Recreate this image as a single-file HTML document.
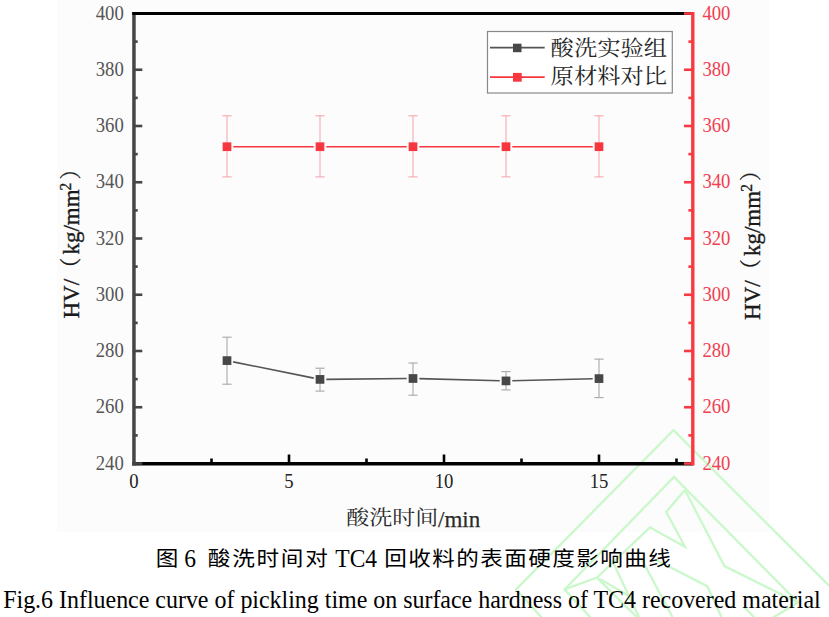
<!DOCTYPE html><html><head><meta charset="utf-8"><style>html,body{margin:0;padding:0;background:#fff;}svg{display:block}</style></head><body>
<svg width="829" height="617" viewBox="0 0 829 617">
<rect width="829" height="617" fill="#fff"/>
<rect x="57" y="0" width="712" height="532" fill="#fcfcfc"/>
<g fill="none" stroke="#cbf8cb" stroke-width="2.3" stroke-linejoin="miter">
<polyline points="543,619 516.1,589.4 673.5,430.2 831,587.7"/>
<polyline points="592,619 564.5,589.4 674,477 798,602.5 769,620"/>
<polyline points="684.9,490 666.2,511.9 684.9,546.8 650,527.3 597,577.6 564.5,589.4"/>
<polyline points="597,577.6 625,605.6 637,617"/>
<polyline points="684.9,490 724.4,566.1 798,602.5"/>
<polyline points="656,560 707.2,586.2 721.5,617"/>
<polyline points="612,560 629,596 640,619"/>
<polyline points="641,558 673.5,619"/>
<polyline points="600,579 629,596"/>
<polyline points="744,607 755,618"/>
</g>
<line x1="132.3" y1="463.8" x2="693" y2="463.8" stroke="#000" stroke-width="3.4"/>
<line x1="289.0" y1="463" x2="289.0" y2="454.5" stroke="#000" stroke-width="2.6"/>
<line x1="444.0" y1="463" x2="444.0" y2="454.5" stroke="#000" stroke-width="2.6"/>
<line x1="599.0" y1="463" x2="599.0" y2="454.5" stroke="#000" stroke-width="2.6"/>
<line x1="211.5" y1="463" x2="211.5" y2="458.5" stroke="#000" stroke-width="2.6"/>
<line x1="366.5" y1="463" x2="366.5" y2="458.5" stroke="#000" stroke-width="2.6"/>
<line x1="521.5" y1="463" x2="521.5" y2="458.5" stroke="#000" stroke-width="2.6"/>
<line x1="676.5" y1="463" x2="676.5" y2="458.5" stroke="#000" stroke-width="2.6"/>
<line x1="133.95" y1="12.1" x2="133.95" y2="465.5" stroke="#454545" stroke-width="3.5"/>
<line x1="133.8" y1="463.50" x2="142.3" y2="463.50" stroke="#454545" stroke-width="2.6"/>
<line x1="133.8" y1="407.25" x2="142.3" y2="407.25" stroke="#454545" stroke-width="2.6"/>
<line x1="133.8" y1="351.00" x2="142.3" y2="351.00" stroke="#454545" stroke-width="2.6"/>
<line x1="133.8" y1="294.75" x2="142.3" y2="294.75" stroke="#454545" stroke-width="2.6"/>
<line x1="133.8" y1="238.50" x2="142.3" y2="238.50" stroke="#454545" stroke-width="2.6"/>
<line x1="133.8" y1="182.25" x2="142.3" y2="182.25" stroke="#454545" stroke-width="2.6"/>
<line x1="133.8" y1="126.00" x2="142.3" y2="126.00" stroke="#454545" stroke-width="2.6"/>
<line x1="133.8" y1="69.75" x2="142.3" y2="69.75" stroke="#454545" stroke-width="2.6"/>
<line x1="133.8" y1="13.50" x2="142.3" y2="13.50" stroke="#454545" stroke-width="2.6"/>
<line x1="133.8" y1="435.38" x2="137.7" y2="435.38" stroke="#454545" stroke-width="2.6"/>
<line x1="133.8" y1="379.12" x2="137.7" y2="379.12" stroke="#454545" stroke-width="2.6"/>
<line x1="133.8" y1="322.88" x2="137.7" y2="322.88" stroke="#454545" stroke-width="2.6"/>
<line x1="133.8" y1="266.62" x2="137.7" y2="266.62" stroke="#454545" stroke-width="2.6"/>
<line x1="133.8" y1="210.38" x2="137.7" y2="210.38" stroke="#454545" stroke-width="2.6"/>
<line x1="133.8" y1="154.12" x2="137.7" y2="154.12" stroke="#454545" stroke-width="2.6"/>
<line x1="133.8" y1="97.88" x2="137.7" y2="97.88" stroke="#454545" stroke-width="2.6"/>
<line x1="133.8" y1="41.62" x2="137.7" y2="41.62" stroke="#454545" stroke-width="2.6"/>
<line x1="132.2" y1="13.5" x2="693" y2="13.5" stroke="#000" stroke-width="2.8"/>
<line x1="692.8" y1="12.1" x2="692.8" y2="465.5" stroke="#f93a42" stroke-width="3.4"/>
<line x1="692.6" y1="463.50" x2="684" y2="463.50" stroke="#f93a42" stroke-width="2.6"/>
<line x1="692.6" y1="407.25" x2="684" y2="407.25" stroke="#f93a42" stroke-width="2.6"/>
<line x1="692.6" y1="351.00" x2="684" y2="351.00" stroke="#f93a42" stroke-width="2.6"/>
<line x1="692.6" y1="294.75" x2="684" y2="294.75" stroke="#f93a42" stroke-width="2.6"/>
<line x1="692.6" y1="238.50" x2="684" y2="238.50" stroke="#f93a42" stroke-width="2.6"/>
<line x1="692.6" y1="182.25" x2="684" y2="182.25" stroke="#f93a42" stroke-width="2.6"/>
<line x1="692.6" y1="126.00" x2="684" y2="126.00" stroke="#f93a42" stroke-width="2.6"/>
<line x1="692.6" y1="69.75" x2="684" y2="69.75" stroke="#f93a42" stroke-width="2.6"/>
<line x1="692.6" y1="13.50" x2="684" y2="13.50" stroke="#f93a42" stroke-width="2.6"/>
<line x1="692.6" y1="435.38" x2="688.4" y2="435.38" stroke="#f93a42" stroke-width="2.6"/>
<line x1="692.6" y1="379.12" x2="688.4" y2="379.12" stroke="#f93a42" stroke-width="2.6"/>
<line x1="692.6" y1="322.88" x2="688.4" y2="322.88" stroke="#f93a42" stroke-width="2.6"/>
<line x1="692.6" y1="266.62" x2="688.4" y2="266.62" stroke="#f93a42" stroke-width="2.6"/>
<line x1="692.6" y1="210.38" x2="688.4" y2="210.38" stroke="#f93a42" stroke-width="2.6"/>
<line x1="692.6" y1="154.12" x2="688.4" y2="154.12" stroke="#f93a42" stroke-width="2.6"/>
<line x1="692.6" y1="97.88" x2="688.4" y2="97.88" stroke="#f93a42" stroke-width="2.6"/>
<line x1="692.6" y1="41.62" x2="688.4" y2="41.62" stroke="#f93a42" stroke-width="2.6"/>
<g font-family="Liberation Serif, serif" font-size="18.7" fill="#555" text-anchor="end">
<text transform="translate(123.8,469.6) scale(1,1.07)">240</text>
<text transform="translate(123.8,413.4) scale(1,1.07)">260</text>
<text transform="translate(123.8,357.1) scale(1,1.07)">280</text>
<text transform="translate(123.8,300.9) scale(1,1.07)">300</text>
<text transform="translate(123.8,244.6) scale(1,1.07)">320</text>
<text transform="translate(123.8,188.3) scale(1,1.07)">340</text>
<text transform="translate(123.8,132.1) scale(1,1.07)">360</text>
<text transform="translate(123.8,75.8) scale(1,1.07)">380</text>
<text transform="translate(123.8,19.6) scale(1,1.07)">400</text>
</g>
<g font-family="Liberation Serif, serif" font-size="18.7" fill="#f04050" text-anchor="start">
<text transform="translate(702.4,469.6) scale(1,1.07)">240</text>
<text transform="translate(702.4,413.4) scale(1,1.07)">260</text>
<text transform="translate(702.4,357.1) scale(1,1.07)">280</text>
<text transform="translate(702.4,300.9) scale(1,1.07)">300</text>
<text transform="translate(702.4,244.6) scale(1,1.07)">320</text>
<text transform="translate(702.4,188.3) scale(1,1.07)">340</text>
<text transform="translate(702.4,132.1) scale(1,1.07)">360</text>
<text transform="translate(702.4,75.8) scale(1,1.07)">380</text>
<text transform="translate(702.4,19.6) scale(1,1.07)">400</text>
</g>
<g font-family="Liberation Serif, serif" font-size="18.7" fill="#222" text-anchor="middle">
<text transform="translate(134.0,488) scale(1,1.07)">0</text>
<text transform="translate(289.0,488) scale(1,1.07)">5</text>
<text transform="translate(444.0,488) scale(1,1.07)">10</text>
<text transform="translate(599.0,488) scale(1,1.07)">15</text>
</g>
<line x1="227.0" y1="337.2" x2="227.0" y2="384.2" stroke="#a8a8a8" stroke-width="1.1"/>
<line x1="222.4" y1="337.2" x2="231.6" y2="337.2" stroke="#a8a8a8" stroke-width="1.1"/>
<line x1="222.4" y1="384.2" x2="231.6" y2="384.2" stroke="#a8a8a8" stroke-width="1.1"/>
<line x1="320.0" y1="368.2" x2="320.0" y2="391.1" stroke="#a8a8a8" stroke-width="1.1"/>
<line x1="315.4" y1="368.2" x2="324.6" y2="368.2" stroke="#a8a8a8" stroke-width="1.1"/>
<line x1="315.4" y1="391.1" x2="324.6" y2="391.1" stroke="#a8a8a8" stroke-width="1.1"/>
<line x1="413.0" y1="363.0" x2="413.0" y2="395.2" stroke="#a8a8a8" stroke-width="1.1"/>
<line x1="408.4" y1="363.0" x2="417.6" y2="363.0" stroke="#a8a8a8" stroke-width="1.1"/>
<line x1="408.4" y1="395.2" x2="417.6" y2="395.2" stroke="#a8a8a8" stroke-width="1.1"/>
<line x1="506.0" y1="371.6" x2="506.0" y2="389.9" stroke="#a8a8a8" stroke-width="1.1"/>
<line x1="501.4" y1="371.6" x2="510.6" y2="371.6" stroke="#a8a8a8" stroke-width="1.1"/>
<line x1="501.4" y1="389.9" x2="510.6" y2="389.9" stroke="#a8a8a8" stroke-width="1.1"/>
<line x1="599.0" y1="359.1" x2="599.0" y2="397.6" stroke="#a8a8a8" stroke-width="1.1"/>
<line x1="594.4" y1="359.1" x2="603.6" y2="359.1" stroke="#a8a8a8" stroke-width="1.1"/>
<line x1="594.4" y1="397.6" x2="603.6" y2="397.6" stroke="#a8a8a8" stroke-width="1.1"/>
<line x1="233.18" y1="361.85" x2="313.82" y2="378.15" stroke="#555" stroke-width="1.6"/>
<line x1="326.30" y1="379.34" x2="406.70" y2="378.56" stroke="#555" stroke-width="1.6"/>
<line x1="419.30" y1="378.66" x2="499.70" y2="380.74" stroke="#555" stroke-width="1.6"/>
<line x1="512.30" y1="380.74" x2="592.70" y2="378.76" stroke="#555" stroke-width="1.6"/>
<rect x="222.65" y="356.25" width="8.7" height="8.7" fill="#474747"/>
<rect x="315.65" y="375.05" width="8.7" height="8.7" fill="#474747"/>
<rect x="408.65" y="374.15" width="8.7" height="8.7" fill="#474747"/>
<rect x="501.65" y="376.55" width="8.7" height="8.7" fill="#474747"/>
<rect x="594.65" y="374.25" width="8.7" height="8.7" fill="#474747"/>
<line x1="227.0" y1="115.8" x2="227.0" y2="176.9" stroke="#f5a9af" stroke-width="1.1"/>
<line x1="222.4" y1="115.8" x2="231.6" y2="115.8" stroke="#f5a9af" stroke-width="1.1"/>
<line x1="222.4" y1="176.9" x2="231.6" y2="176.9" stroke="#f5a9af" stroke-width="1.1"/>
<line x1="320.0" y1="115.8" x2="320.0" y2="176.9" stroke="#f5a9af" stroke-width="1.1"/>
<line x1="315.4" y1="115.8" x2="324.6" y2="115.8" stroke="#f5a9af" stroke-width="1.1"/>
<line x1="315.4" y1="176.9" x2="324.6" y2="176.9" stroke="#f5a9af" stroke-width="1.1"/>
<line x1="413.0" y1="115.8" x2="413.0" y2="176.9" stroke="#f5a9af" stroke-width="1.1"/>
<line x1="408.4" y1="115.8" x2="417.6" y2="115.8" stroke="#f5a9af" stroke-width="1.1"/>
<line x1="408.4" y1="176.9" x2="417.6" y2="176.9" stroke="#f5a9af" stroke-width="1.1"/>
<line x1="506.0" y1="115.8" x2="506.0" y2="176.9" stroke="#f5a9af" stroke-width="1.1"/>
<line x1="501.4" y1="115.8" x2="510.6" y2="115.8" stroke="#f5a9af" stroke-width="1.1"/>
<line x1="501.4" y1="176.9" x2="510.6" y2="176.9" stroke="#f5a9af" stroke-width="1.1"/>
<line x1="599.0" y1="115.8" x2="599.0" y2="176.9" stroke="#f5a9af" stroke-width="1.1"/>
<line x1="594.4" y1="115.8" x2="603.6" y2="115.8" stroke="#f5a9af" stroke-width="1.1"/>
<line x1="594.4" y1="176.9" x2="603.6" y2="176.9" stroke="#f5a9af" stroke-width="1.1"/>
<line x1="233.30" y1="146.70" x2="313.70" y2="146.70" stroke="#f7363e" stroke-width="1.6"/>
<line x1="326.30" y1="146.70" x2="406.70" y2="146.70" stroke="#f7363e" stroke-width="1.6"/>
<line x1="419.30" y1="146.70" x2="499.70" y2="146.70" stroke="#f7363e" stroke-width="1.6"/>
<line x1="512.30" y1="146.70" x2="592.70" y2="146.70" stroke="#f7363e" stroke-width="1.6"/>
<rect x="222.65" y="142.35" width="8.7" height="8.7" fill="#f7363e"/>
<rect x="315.65" y="142.35" width="8.7" height="8.7" fill="#f7363e"/>
<rect x="408.65" y="142.35" width="8.7" height="8.7" fill="#f7363e"/>
<rect x="501.65" y="142.35" width="8.7" height="8.7" fill="#f7363e"/>
<rect x="594.65" y="142.35" width="8.7" height="8.7" fill="#f7363e"/>
<rect x="487.5" y="31.5" width="184.8" height="61.5" fill="#fff" stroke="#888" stroke-width="1.2"/>
<line x1="490" y1="47.7" x2="544.7" y2="47.7" stroke="#555" stroke-width="1.8"/>
<rect x="513" y="43.7" width="8.5" height="8.5" fill="#474747"/>
<line x1="490" y1="77.2" x2="544.7" y2="77.2" stroke="#f7363e" stroke-width="1.8"/>
<rect x="513" y="72.9" width="8.7" height="8.8" fill="#f7363e"/>
<g font-family="Liberation Serif, 'Noto Serif CJK SC', serif" font-size="23.3" fill="#262626">
<text transform="translate(550.6,54.9) scale(1,0.9)">酸洗实验组</text>
<text transform="translate(550.6,82.6) scale(1,0.9)">原材料对比</text>
</g>
<g transform="translate(79.2,0) rotate(-90) scale(1,1.03)" font-family="Liberation Serif, 'Noto Serif CJK SC', serif" font-size="23" fill="#1a1a1a" stroke="#1a1a1a" stroke-width="0.35">
<text x="-318.5" y="0">HV/</text>
<text x="-278.8" y="-1.5" font-size="21">（</text>
<text x="-254.6" y="0">kg/mm</text>
<text x="-190.4" y="-7.6" font-size="15.5">2</text>
<text x="-179.5" y="-1.5" font-size="21">）</text>
</g>
<g transform="translate(759.8,0) rotate(-90) scale(1,1.03)" font-family="Liberation Serif, 'Noto Serif CJK SC', serif" font-size="23" fill="#1a1a1a" stroke="#1a1a1a" stroke-width="0.35">
<text x="-319.9" y="0">HV/</text>
<text x="-280.2" y="-1.5" font-size="21">（</text>
<text x="-256.0" y="0">kg/mm</text>
<text x="-191.8" y="-7.6" font-size="15.5">2</text>
<text x="-180.9" y="-1.5" font-size="21">）</text>
</g>
<text transform="translate(346.2,525.2) scale(1,0.87)" font-family="Liberation Serif, 'Noto Serif CJK SC', serif" font-size="23" fill="#2a2a2a">酸洗时间</text>
<text x="438" y="526.5" font-family="Liberation Serif, 'Noto Serif CJK SC', serif" font-size="23" fill="#2a2a2a" stroke="#2a2a2a" stroke-width="0.25">/min</text>
<g font-family="Liberation Serif, 'Noto Sans CJK SC', sans-serif" font-size="24" fill="#000">
<text transform="translate(155.8,566.4) scale(1,0.92)" font-size="22.6">图</text>
<text transform="translate(184.3,567) scale(1,1.09)" font-size="23.5">6</text>
<text transform="translate(207.8,566.4) scale(1,0.92)" font-size="22.6" textLength="120" lengthAdjust="spacing">酸洗时间对</text>
<text transform="translate(335.3,567) scale(1,1.09)" font-size="23.5">TC4</text>
<text transform="translate(384.3,566.4) scale(1,0.92)" font-size="22.6" textLength="286.5" lengthAdjust="spacing">回收料的表面硬度影响曲线</text>
</g>
<text transform="translate(3.2,608) scale(1,1.08)" font-family="Liberation Serif, serif" font-size="24" fill="#000" textLength="817.5" lengthAdjust="spacing">Fig.6 Influence curve of pickling time on surface hardness of TC4 recovered material</text>
</svg></body></html>
